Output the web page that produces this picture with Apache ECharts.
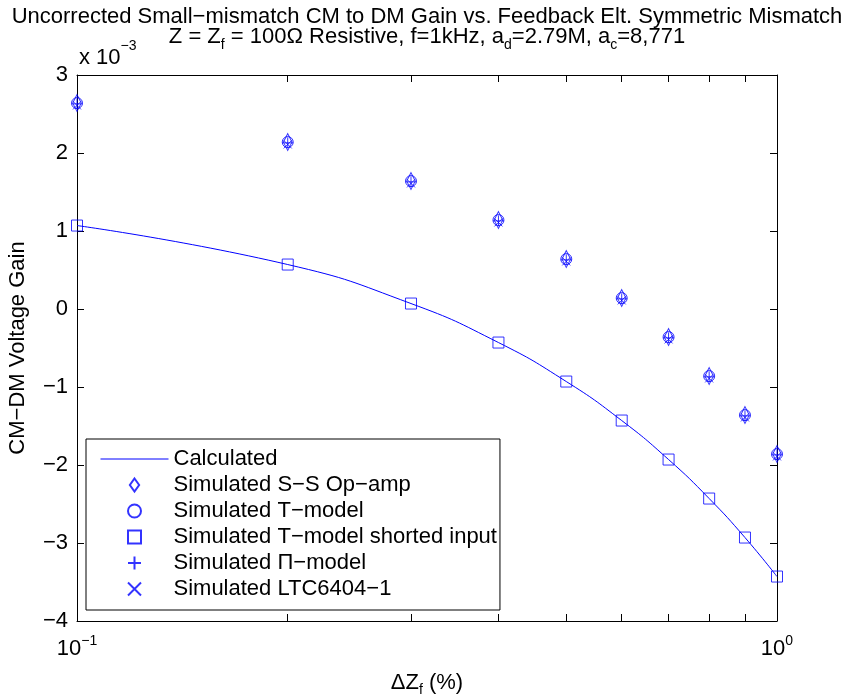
<!DOCTYPE html>
<html lang="en">
<head>
    <meta charset="UTF-8">
    <title>CM to DM Gain</title>
</head>
<body style="margin: 0">
    <div id="main" style="width:854px;height:694px"></div>
    <script src="https://cdn.jsdelivr.net/npm/echarts@6/dist/echarts.min.js"></script>
    <script type="text/javascript">
        // x: feedback element mismatch (%), y: gain in units of 1e-3
        var mismatch = [0.1, 0.2, 0.3, 0.4, 0.5, 0.6, 0.7, 0.8, 0.9, 1.0];
        var calculated = [1.07, 0.57, 0.07, -0.43, -0.93, -1.43, -1.93, -2.43, -2.93, -3.43];
        var simSSOpamp = [2.64, 2.14, 1.64, 1.14, 0.64, 0.14, -0.36, -0.86, -1.36, -1.86];
        var simTModel = [2.64, 2.14, 1.64, 1.14, 0.64, 0.14, -0.36, -0.86, -1.36, -1.86];
        var simTShorted = [1.07, 0.57, 0.07, -0.43, -0.93, -1.43, -1.93, -2.43, -2.93, -3.43];
        var simPiModel = [2.63, 2.13, 1.63, 1.13, 0.63, 0.13, -0.37, -0.87, -1.37, -1.87];
        var simLTC = [2.61, 2.11, 1.61, 1.11, 0.61, 0.11, -0.39, -0.89, -1.39, -1.89];
        var xTicks = [0.1, 0.2, 0.3, 0.4, 0.5, 0.6, 0.7, 0.8, 0.9, 1.0];
        var xLabels = [0.1, 1];

        var blue = '#0000ff';
        var font = 'Liberation Sans, Arial, sans-serif';
        var fs = 22;

        function pairs(ys) {
            return mismatch.map(function (x, i) { return [x, ys[i]]; });
        }

        var chart = echarts.init(document.getElementById('main'));

        // hollow markers: no fill, thin blue outline
        var markerStyle = { color: 'transparent', borderColor: blue, borderWidth: 1 };
        var axisBlack = { color: '#000', width: 1 };

        var option = {
            animation: false,
            title: [
                {
                    text: 'Uncorrected Small\u2212mismatch CM to DM Gain vs. Feedback Elt. Symmetric Mismatch',
                    left: 'center',
                    top: 6,
                    padding: 0,
                    textStyle: { fontFamily: font, fontSize: fs, fontWeight: 'normal', color: '#000', lineHeight: 22 }
                },
                {
                    text: 'Z = Z{s|f} = 100\u03A9 Resistive, f=1kHz, a{s|d}=2.79M, a{s|c}=8,771',
                    left: 'center',
                    top: 22,
                    padding: 0,
                    textStyle: {
                        fontFamily: font, fontSize: fs, fontWeight: 'normal', color: '#000', lineHeight: 30,
                        rich: {
                            s: { fontFamily: font, fontSize: 14, lineHeight: 14, verticalAlign: 'bottom' }
                        }
                    }
                },
                {
                    text: 'x 10{e|\u22123}',
                    left: 79,
                    top: 39,
                    padding: 0,
                    textStyle: {
                        fontFamily: font, fontSize: fs, fontWeight: 'normal', color: '#000', lineHeight: 38,
                        rich: { e: { fontFamily: font, fontSize: 14, lineHeight: 14, verticalAlign: 'top' } }
                    }
                }
            ],
            grid: { left: 77, right: 77, top: 75, bottom: 73, outerBoundsMode: 'none' },
            legend: {
                orient: 'vertical',
                left: 86,
                top: 439,
                itemWidth: 68,
                itemHeight: 13,
                itemGap: 0,
                padding: [7, 3, 8, 14],
                borderColor: '#000',
                borderWidth: 1,
                backgroundColor: '#fff',
                textStyle: { fontFamily: font, fontSize: fs, color: '#000', lineHeight: 26 },
                data: [
                    { name: 'Calculated', itemStyle: { color: 'transparent', borderWidth: 0 }, lineStyle: { width: 1 } },
                    'Simulated S\u2212S Op\u2212amp', 'Simulated T\u2212model',
                    'Simulated T\u2212model shorted input', 'Simulated \u03A0\u2212model', 'Simulated LTC6404\u22121'
                ]
            },
            xAxis: [
                {
                    type: 'log',
                    logBase: 10,
                    min: 0.1,
                    max: 1,
                    name: '\u0394Z{s|f} (%)',
                    nameLocation: 'middle',
                    nameGap: 34,
                    nameTextStyle: {
                        fontFamily: font, fontSize: fs, color: '#000', lineHeight: 28,
                        rich: { s: { fontFamily: font, fontSize: 14, lineHeight: 14, verticalAlign: 'bottom' } }
                    },
                    axisLine: { onZero: false, lineStyle: axisBlack },
                    axisTick: { inside: true, length: 7, customValues: xTicks, lineStyle: axisBlack },
                    axisLabel: {
                        customValues: xLabels,
                        margin: 13,
                        fontFamily: font, fontSize: fs, color: '#000', lineHeight: 30,
                        formatter: function (v) {
                            return '10{e|' + (Math.round(Math.log10(v)) < 0 ? '\u22121' : '0') + '}';
                        },
                        rich: { e: { fontFamily: font, fontSize: 14, lineHeight: 14, verticalAlign: 'top' } }
                    },
                    splitLine: { show: false }
                },
                {
                    // top frame edge with ticks
                    type: 'log',
                    logBase: 10,
                    min: 0.1,
                    max: 1,
                    position: 'top',
                    axisLine: { onZero: false, lineStyle: axisBlack },
                    axisTick: { inside: true, length: 7, customValues: xTicks, lineStyle: axisBlack },
                    axisLabel: { show: false },
                    splitLine: { show: false }
                }
            ],
            yAxis: [
                {
                    type: 'value',
                    min: -4,
                    max: 3,
                    interval: 1,
                    name: 'CM\u2212DM Voltage Gain',
                    nameLocation: 'middle',
                    nameGap: 48,
                    nameTextStyle: { fontFamily: font, fontSize: fs, color: '#000' },
                    axisLine: { show: true, onZero: false, lineStyle: axisBlack },
                    axisTick: { inside: true, length: 7, lineStyle: axisBlack },
                    axisLabel: {
                        margin: 9,
                        fontFamily: font, fontSize: fs, color: '#000',
                        formatter: function (v) {
                            return String(Math.round(v)).replace('-', '\u2212');
                        }
                    },
                    splitLine: { show: false }
                },
                {
                    // right frame edge with ticks
                    type: 'value',
                    min: -4,
                    max: 3,
                    interval: 1,
                    position: 'right',
                    axisLine: { show: true, onZero: false, lineStyle: axisBlack },
                    axisTick: { inside: true, length: 7, lineStyle: axisBlack },
                    axisLabel: { show: false },
                    splitLine: { show: false }
                }
            ],
            series: [
                {
                    name: 'Calculated',
                    type: 'line',
                    data: pairs(calculated),
                    smooth: true,
                    symbol: 'none',
                    lineStyle: { color: blue, width: 1 },
                    itemStyle: { color: blue },
                    z: 2
                },
                {
                    name: 'Simulated S\u2212S Op\u2212amp',
                    type: 'scatter',
                    data: pairs(simSSOpamp),
                    symbol: 'path://M5,0L10,7L5,14L0,7Z',
                    symbolSize: [12, 17],
                    symbolKeepAspect: true,
                    itemStyle: markerStyle,
                    z: 3
                },
                {
                    name: 'Simulated T\u2212model',
                    type: 'scatter',
                    data: pairs(simTModel),
                    symbol: 'circle',
                    symbolSize: 11,
                    itemStyle: markerStyle,
                    z: 3
                },
                {
                    name: 'Simulated T\u2212model shorted input',
                    type: 'scatter',
                    data: pairs(simTShorted),
                    symbol: 'path://M0,0L10,0L10,10L0,10Z',
                    symbolSize: 11,
                    symbolKeepAspect: true,
                    itemStyle: markerStyle,
                    z: 3
                },
                {
                    name: 'Simulated \u03A0\u2212model',
                    type: 'scatter',
                    data: pairs(simPiModel),
                    symbol: 'path://M5,0L5,10M0,5L10,5',
                    symbolSize: 11,
                    itemStyle: markerStyle,
                    z: 4
                },
                {
                    name: 'Simulated LTC6404\u22121',
                    type: 'scatter',
                    data: pairs(simLTC),
                    symbol: 'path://M0,0L10,10M10,0L0,10',
                    symbolSize: 8,
                    itemStyle: markerStyle,
                    z: 4
                }
            ]
        };

        chart.setOption(option);
    </script>
</body>
</html>
